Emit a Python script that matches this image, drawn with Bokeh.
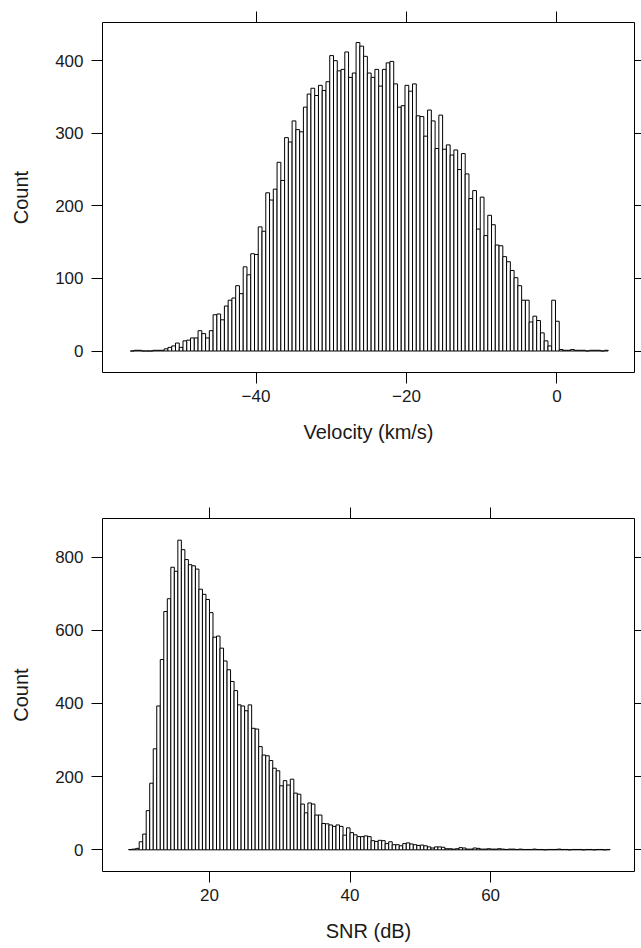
import numpy as np
from bokeh.plotting import figure
from bokeh.layouts import column
from bokeh.models import LinearAxis, FixedTicker, Range1d, ColumnDataSource
from bokeh.embed import file_html
from bokeh.resources import INLINE

# ---------------- data ----------------
velocity_counts = [
    0, 1, 1, 0, 0, 0, 1, 1, 1,
    3, 5, 7, 11, 5, 14, 15, 18, 18, 28, 24, 18, 28, 50, 51, 43, 62, 70, 73, 90,
    79, 116, 105, 134, 133, 171, 165, 218, 208, 223, 260, 235, 294, 288, 317, 305,
    302, 336, 354, 362, 352, 366, 359, 371, 407, 400, 386, 388, 412, 377, 383, 425,
    420, 406, 383, 377, 388, 365, 388, 397, 399, 368, 336, 338, 366, 358, 368, 324,
    323, 296, 332, 317, 279, 325, 278, 284, 270, 277, 250,
    272, 244, 210, 221, 168, 212, 159, 187, 174, 146, 145, 130, 123, 111, 101, 90,
    70, 70, 40, 48, 42, 25, 14, 7, 70, 41,
    2, 1, 1, 2, 1, 1, 1, 0, 1, 1, 1, 0, 1,
]
velocity_first_break = -56.7
velocity_bin_width = 0.5
velocity_ticks = [-40, -20, 0]
velocity_count_ticks = [0, 100, 200, 300, 400]

snr_counts = [
    1, 2,
    4, 22, 43, 107, 182, 276, 393, 520, 651, 686, 772, 761, 846, 820, 793, 779, 776,
    767, 712, 698, 684, 648, 581, 584, 551, 516, 492, 460, 435, 396, 393, 380, 396,
    332, 330, 282, 259, 257, 244, 223, 216, 175, 189, 177, 193, 155, 152,
    125, 101, 128, 125, 95, 95, 72, 71, 68, 64, 68, 64, 40, 60, 47, 41, 36, 36, 38,
    36, 25, 23, 26, 25, 17, 22, 14, 14, 11, 17, 19, 16, 14, 12, 13, 11, 8, 5, 8, 8,
    7, 3, 3, 2, 3, 6, 5, 2, 2, 5, 4, 2, 2, 3, 2, 2, 3, 2, 1, 2, 2, 1, 2, 1, 1, 1, 2,
    1, 1, 0, 1, 1, 1, 2, 1, 1, 0, 1, 1, 1, 0, 1, 1, 0, 1, 1, 0, 1,
]
snr_first_break = 8.5
snr_bin_width = 0.5
snr_ticks = [20, 40, 60]
snr_count_ticks = [0, 200, 400, 600, 800]

FONT = "Liberation Sans"
TEXT = "#1a1a1a"


def panel(counts, first_break, bin_width, xticks, yticks, xlabel,
          xr, yr, border_top, frame_h, border_bottom):
    counts = np.asarray(counts, dtype=float)
    breaks = first_break + bin_width * np.arange(len(counts) + 1)
    src = ColumnDataSource(dict(left=breaks[:-1], right=breaks[1:],
                                top=counts, bottom=np.zeros_like(counts)))
    p = figure(width=641, height=border_top + frame_h + border_bottom,
               frame_width=532, frame_height=frame_h,
               x_range=Range1d(*xr), y_range=Range1d(*yr),
               output_backend="svg", toolbar_location=None,
               x_axis_location=None, y_axis_location=None,
               min_border_left=102, min_border_right=0,
               min_border_top=border_top, min_border_bottom=border_bottom)
    p.grid.visible = False
    p.background_fill_color = "white"
    p.border_fill_color = "white"
    p.outline_line_color = "black"
    p.outline_line_width = 1

    p.quad(left="left", right="right", top="top", bottom="bottom", source=src,
           fill_color="white", line_color="black", line_width=1)

    def style(ax, labels=True, tick_out=11):
        ax.axis_line_color = None
        ax.major_tick_line_color = "black"
        ax.major_tick_out = tick_out
        ax.major_tick_in = 0
        ax.minor_tick_line_color = None
        ax.major_label_text_font = FONT
        ax.axis_label_text_font = FONT
        ax.axis_label_text_color = TEXT
        ax.axis_label_text_font_style = "normal"
        if labels:
            ax.major_label_text_color = TEXT
            ax.major_label_text_font_size = "17px"
            ax.axis_label_text_font_size = "20px"
        else:
            ax.major_label_text_color = None
            ax.major_label_text_font_size = "0px"
            ax.major_label_standoff = 0

    bottom = LinearAxis(ticker=FixedTicker(ticks=xticks), axis_label=xlabel)
    style(bottom)
    bottom.major_label_standoff = 6
    bottom.axis_label_standoff = 16
    p.add_layout(bottom, "below")

    left = LinearAxis(ticker=FixedTicker(ticks=yticks), axis_label="Count")
    style(left)
    left.major_label_standoff = 8
    left.axis_label_standoff = 20
    p.add_layout(left, "left")

    top = LinearAxis(ticker=FixedTicker(ticks=xticks))
    style(top, labels=False)
    p.add_layout(top, "above")

    right = LinearAxis(ticker=FixedTicker(ticks=yticks))
    style(right, labels=False, tick_out=7)
    p.add_layout(right, "right")
    return p


p1 = panel(velocity_counts, velocity_first_break, velocity_bin_width,
           velocity_ticks, velocity_count_ticks, "Velocity (km/s)",
           (-60.4, 10.3), (-29.6, 452.6), 22, 350, 102)
p2 = panel(snr_counts, snr_first_break, snr_bin_width,
           snr_ticks, snr_count_ticks, "SNR (dB)",
           (4.78, 80.47), (-59.2, 905.2), 44, 353, 77)

layout = column(p1, p2, spacing=0)
open("out.html", "w").write(file_html(layout, INLINE))
